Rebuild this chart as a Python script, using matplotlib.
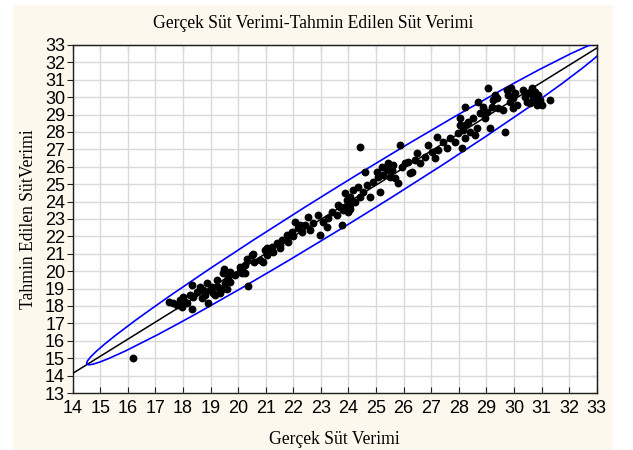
import matplotlib
matplotlib.use("Agg")
import matplotlib.pyplot as plt
from matplotlib.patches import Ellipse, Rectangle
import numpy as np

gercek = [16.2, 17.5, 17.65, 17.77, 17.89, 17.95, 18.0, 18.07, 18.13, 18.25,
          18.31, 18.31, 18.37, 18.5, 18.62, 18.68, 18.74, 18.8, 18.86, 18.92,
          18.98, 19.04, 19.1, 19.16, 19.22, 19.28, 19.34, 19.4, 19.5, 19.46,
          19.52, 19.58, 19.58, 19.64, 19.7, 19.7, 19.89, 20.07, 20.07, 20.13,
          20.13, 20.25, 20.25, 20.33, 20.37, 20.49, 20.53, 20.57, 20.79, 20.91,
          20.97, 21.03, 21.03, 21.21, 21.27, 21.4, 21.52, 21.52, 21.58, 21.76,
          21.82, 21.94, 22.0, 22.06, 22.18, 22.24, 22.3, 22.42, 22.54, 22.6,
          22.72, 22.9, 22.97, 23.09, 23.21, 23.27, 23.39, 23.57, 23.63, 23.69,
          23.75, 23.81, 23.87, 23.87, 23.93, 23.99, 23.99, 24.05, 24.05, 24.05,
          24.17, 24.24, 24.36, 24.42, 24.42, 24.54, 24.6, 24.66, 24.78, 24.9,
          25.02, 25.08, 25.14, 25.2, 25.26, 25.38, 25.44, 25.5, 25.56, 25.62,
          25.68, 25.8, 25.87, 25.93, 26.05, 26.17, 26.23, 26.29, 26.41, 26.5,
          26.6, 26.77, 26.89, 27.02, 27.14, 27.2, 27.26, 27.44, 27.56, 27.68,
          27.86, 27.98, 28.1, 28.22, 28.04, 28.04, 28.16, 28.22, 28.22, 28.34,
          28.4, 28.53, 28.59, 28.65, 28.71, 28.77, 28.89, 28.95, 29.01, 29.07,
          29.13, 29.19, 29.25, 29.31, 29.37, 29.43, 29.61, 29.67, 29.73, 29.79,
          29.85, 29.91, 29.97, 29.97, 30.04, 30.1, 30.34, 30.4, 30.46, 30.52,
          30.58, 30.64, 30.7, 30.77, 30.82, 30.82, 30.88, 30.94, 31.0, 31.31]
tahmin = [15.0, 18.25, 18.15, 18.06, 18.35, 17.96, 18.53, 18.25, 18.15, 18.63,
          17.81, 19.2, 18.53, 18.82, 19.1, 18.44, 18.92, 18.63, 19.3, 18.15,
          18.92, 19.1, 18.73, 18.63, 19.5, 19.11, 18.73, 19.0, 20.1, 19.88,
          19.3, 19.5, 19.0, 19.6, 19.97, 19.4, 19.78, 19.97, 20.26, 19.88,
          20.07, 19.88, 20.36, 20.68, 19.17, 20.93, 21.0, 20.55, 20.64, 20.55,
          21.2, 20.93, 21.32, 21.4, 21.12, 21.6, 21.32, 21.5, 21.8, 22.08,
          21.7, 22.27, 22.0, 22.84, 22.47, 22.66, 22.27, 22.66, 23.13, 22.37,
          22.75, 23.23, 22.08, 22.84, 22.56, 23.04, 23.42, 23.23, 23.8, 23.7,
          22.66, 23.52, 23.7, 24.48, 24.09, 24.0, 23.42, 23.6, 24.28, 23.8,
          24.67, 24.0, 24.86, 24.28, 27.15, 24.57, 25.72, 24.95, 24.28, 25.14,
          25.72, 25.43, 24.57, 26.0, 25.53, 25.82, 26.2, 25.43, 25.82, 26.1,
          25.34, 25.05, 27.25, 26.0, 26.2, 26.3, 25.63, 25.72, 26.39, 26.78,
          26.2, 26.58, 27.25, 26.87, 26.49, 27.73, 26.97, 27.44, 27.06, 27.64,
          27.44, 27.92, 27.06, 27.64, 28.79, 28.4, 28.11, 28.4, 29.46, 28.6,
          28.02, 28.79, 27.83, 28.21, 29.74, 29.07, 29.46, 28.79, 29.17, 30.51,
          28.21, 29.46, 29.84, 30.13, 29.94, 29.36, 29.26, 28.02, 30.41, 30.13,
          29.74, 30.51, 29.94, 29.36, 30.22, 29.55, 30.41, 30.03, 29.74, 30.22,
          29.65, 30.51, 30.03, 30.32, 29.74, 29.55, 30.13, 29.84, 29.55, 29.84]

# regression line and 95% ellipse
egim = 0.984        # slope
kesim = 0.35        # intercept
elips_merkez = (24.0, 23.97)
elips_genislik = 26.58
elips_yukseklik = 1.81
elips_aci = 44.54

x_ticks = list(range(14, 34))
y_ticks = list(range(13, 34))

fig = plt.figure(figsize=(6.33, 4.5), dpi=100, facecolor="white")
# cream panel behind everything (Statistica style)
fig.patches.append(Rectangle((13 / 633, 0), 600 / 633, 445 / 450,
                             transform=fig.transFigure, facecolor="#fdf8ee",
                             edgecolor="none", zorder=-10))

ax = fig.add_axes([72.7 / 633, 1 - 393 / 450, 524 / 633, 348 / 450])
ax.set_facecolor("white")
ax.set_xlim(14, 33)
ax.set_ylim(13, 33)
ax.set_xticks(x_ticks)
ax.set_yticks(y_ticks)
ax.grid(True, color="#d9d9d9", linewidth=1.0)
ax.set_axisbelow(True)

for s in ax.spines.values():
    s.set_color("#202020")
    s.set_linewidth(1.0)

# left ticks go out, bottom ticks go in
ax.tick_params(axis="y", left=True, right=False, direction="out", length=4,
               color="#202020", pad=1.5, labelsize=13)
ax.tick_params(axis="x", bottom=True, top=False, direction="in", length=4,
               color="#202020", pad=5, labelsize=13)
for lab in ax.get_xticklabels() + ax.get_yticklabels():
    lab.set_fontfamily("Liberation Sans")

# top and right ticks point inward, no labels
sag = ax.secondary_yaxis("right")
sag.set_yticks(y_ticks)
sag.tick_params(direction="in", length=4, color="#202020", labelright=False)
ust = ax.secondary_xaxis("top")
ust.set_xticks(x_ticks)
ust.tick_params(direction="in", length=4, color="#202020", labeltop=False)
for s in list(sag.spines.values()) + list(ust.spines.values()):
    s.set_color("#202020")

# regression line across the whole axis
xx = np.array([14, 33])
ax.plot(xx, egim * xx + kesim, color="black", linewidth=1.1, zorder=3)

# confidence ellipse
el = Ellipse(elips_merkez, elips_genislik, elips_yukseklik, angle=elips_aci,
             fill=False, edgecolor="#0000ff", linewidth=1.2, zorder=3)
ax.add_patch(el)

ax.scatter(gercek, tahmin, s=32, color="black", zorder=4, linewidths=0)

fig.text(313 / 633, 1 - 23 / 450, "Gerçek Süt Verimi-Tahmin Edilen Süt Verimi",
         ha="center", va="center", fontsize=12.7, family="Liberation Serif")
fig.text(334.7 / 633, 1 - 440 / 450, "Gerçek Süt Verimi",
         ha="center", va="center", fontsize=12.7, family="Liberation Serif")
fig.text(28.5 / 633, 1 - 219 / 450, "Tahmin Edilen SütVerimi", rotation=90,
         ha="center", va="center", fontsize=12.7, family="Liberation Serif")

fig.savefig("out.png", dpi=100, facecolor="white")
